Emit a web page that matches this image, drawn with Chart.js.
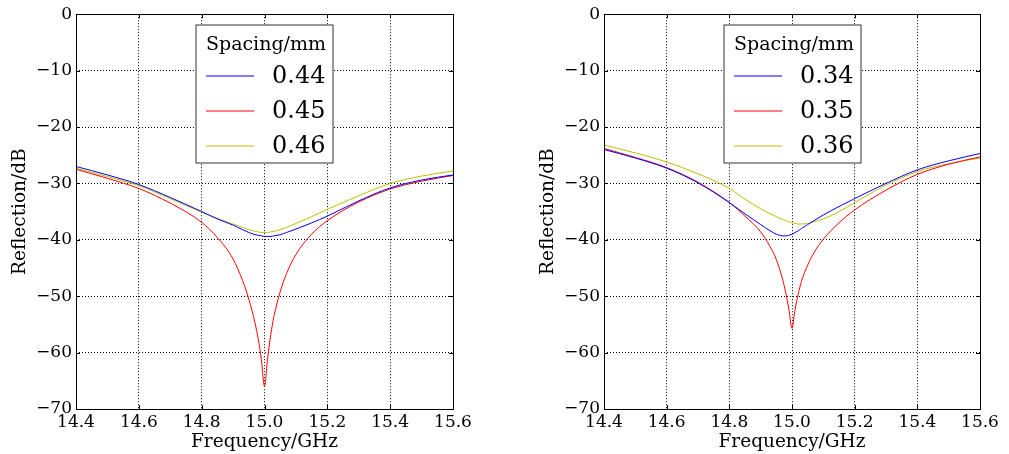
<!DOCTYPE html>
<html>
<head>
<meta charset="utf-8">
<script src="https://cdn.jsdelivr.net/npm/chart.js@4.4.0/dist/chart.umd.min.js"></script>
<style>
  html, body { margin: 0; padding: 0; background: #fff; }
  #wrap { position: relative; width: 1009px; height: 454px; overflow: hidden; }
  canvas { position: absolute; top: 0; }
  #left { left: 0; }
  #right { left: 527px; }
</style>
</head>
<body>
<div id="wrap">
  <canvas id="left" width="480" height="454"></canvas>
  <canvas id="right" width="482" height="454"></canvas>
</div>
<script>
// ---- data ----
const xTicks = [14.4, 14.6, 14.8, 15.0, 15.2, 15.4, 15.6];
const yTicks = [0, -10, -20, -30, -40, -50, -60, -70];

// left panel: spacing 0.44 / 0.45 / 0.46 mm
const freqLeft = [14.4, 14.5, 14.6, 14.7, 14.8, 14.85, 14.9, 14.93, 14.95, 14.97, 14.98, 14.99, 15.0,
                  15.01, 15.02, 15.03, 15.05, 15.07, 15.1, 15.15, 15.2, 15.3, 15.4, 15.5, 15.6];
const refl044 = [-27.0, -28.5, -30.2, -32.5, -35.0, -36.3, -37.4, -38.2, -38.7, -39.1, -39.2, -39.3, -39.4,
                 -39.4, -39.4, -39.3, -39.1, -38.7, -38.1, -37.0, -35.8, -33.1, -30.8, -29.4, -28.5];
const refl045 = [-27.5, -29.1, -30.9, -33.5, -36.9, -39.6, -43.4, -47.2, -50.5, -54.8, -57.6, -61.2, -66.0,
                 -61.0, -56.8, -53.6, -49.2, -46.0, -42.6, -39.0, -36.6, -33.3, -31.0, -29.6, -28.6];
const refl046 = [-27.3, -28.8, -30.4, -32.7, -35.1, -36.2, -37.2, -37.8, -38.2, -38.5, -38.6, -38.7, -38.7,
                 -38.7, -38.6, -38.5, -38.2, -37.8, -37.1, -35.9, -34.6, -32.2, -30.0, -28.7, -27.8];
const spacingLeft = ['0.44', '0.45', '0.46'];

// right panel: spacing 0.34 / 0.35 / 0.36 mm
const freqRight = [14.4, 14.5, 14.6, 14.7, 14.8, 14.85, 14.9, 14.93, 14.95, 14.97, 14.98, 14.99, 15.0,
                   15.01, 15.02, 15.03, 15.05, 15.07, 15.1, 15.15, 15.2, 15.3, 15.4, 15.5, 15.6];
const refl034 = [-24.0, -25.5, -27.3, -29.9, -33.4, -35.4, -37.3, -38.4, -39.0, -39.3, -39.3, -39.2, -39.0,
                 -38.7, -38.4, -38.0, -37.3, -36.6, -35.6, -34.1, -32.7, -30.0, -27.6, -26.0, -24.7];
const refl035 = [-23.8, -25.4, -27.2, -29.8, -33.4, -35.8, -38.6, -41.2, -43.5, -47.0, -49.4, -52.3, -55.7,
                 -52.3, -49.6, -47.4, -44.5, -42.3, -39.9, -37.0, -34.7, -31.2, -28.4, -26.6, -25.3];
const refl036 = [-23.2, -24.6, -26.2, -28.3, -30.9, -32.8, -34.5, -35.4, -35.9, -36.4, -36.6, -36.8, -37.0,
                 -37.1, -37.2, -37.2, -37.1, -36.8, -36.3, -35.0, -33.4, -30.3, -27.9, -26.5, -25.5];
const spacingRight = ['0.34', '0.35', '0.36'];

const colors = ['#0000ff', '#ff0000', '#bfbf00'];
const SERIF = '"DejaVu Serif", "Liberation Serif", serif';

// ---- frame, inward ticks, axis titles, boxed legend ----
const decor = {
  id: 'decor',
  afterDatasetsDraw(chart) {
    const { ctx, chartArea: a, scales: { x, y } } = chart;
    const al = v => Math.round(v) + 0.5;
    ctx.save();
    ctx.strokeStyle = '#000';
    ctx.lineWidth = 1;
    ctx.setLineDash([]);
    ctx.beginPath();
    x.ticks.forEach(t => {
      const px = al(x.getPixelForValue(t.value));
      ctx.moveTo(px, a.bottom); ctx.lineTo(px, a.bottom - 4);
      ctx.moveTo(px, a.top); ctx.lineTo(px, a.top + 4);
    });
    y.ticks.forEach(t => {
      const py = al(y.getPixelForValue(t.value));
      ctx.moveTo(a.left, py); ctx.lineTo(a.left + 4, py);
      ctx.moveTo(a.right, py); ctx.lineTo(a.right - 4, py);
    });
    ctx.stroke();
    ctx.strokeRect(al(a.left), al(a.top), Math.round(a.right - a.left), Math.round(a.bottom - a.top));

    // axis titles
    ctx.fillStyle = '#000';
    ctx.font = '18.5px ' + SERIF;
    ctx.textAlign = 'center';
    ctx.textBaseline = 'middle';
    ctx.fillText('Frequency/GHz', (a.left + a.right) / 2, a.bottom + 33);
    ctx.save();
    ctx.translate(a.left - 56, (a.top + a.bottom) / 2);
    ctx.rotate(-Math.PI / 2);
    ctx.fillText('Reflection/dB', 0, 0);
    ctx.restore();

    // legend box
    const bx = Math.round(a.left + 120), by = Math.round(a.top + 11);
    ctx.fillStyle = '#fff';
    ctx.fillRect(bx, by, 137, 138);
    ctx.strokeStyle = '#333';
    ctx.strokeRect(bx, by, 137, 138);
    ctx.fillStyle = '#000';
    ctx.font = '19px ' + SERIF;
    ctx.fillText('Spacing/mm', bx + 70, by + 20);
    ctx.font = '24px ' + SERIF;
    ctx.textAlign = 'left';
    chart.data.datasets.forEach((ds, i) => {
      const ly = by + 51 + i * 35;
      ctx.strokeStyle = ds.borderColor;
      ctx.beginPath();
      ctx.moveTo(bx + 10, ly); ctx.lineTo(bx + 58, ly);
      ctx.stroke();
      ctx.fillText(ds.label, bx + 76, ly + 1);
    });
    ctx.restore();
  }
};

function axisOpts(ticks, fit, pad, fmt) {
  return {
    type: 'linear',
    afterBuildTicks: s => { s.ticks = ticks.map(v => ({ value: v })); },
    afterFit: fit,
    grid: { color: '#000', lineWidth: 1, drawTicks: false, borderDash: [1, 2] },
    border: { display: false, dash: [1, 2] },
    ticks: {
      padding: pad, color: '#000', maxRotation: 0, autoSkip: false,
      font: { family: SERIF, size: 17 },
      callback: fmt
    }
  };
}

function makeChart(id, freq, series, labels, yWidth, padRight) {
  return new Chart(document.getElementById(id), {
    type: 'line',
    data: {
      datasets: series.map((vals, i) => ({
        label: labels[i],
        data: freq.map((f, j) => ({ x: f, y: vals[j] })),
        borderColor: colors[i],
        borderWidth: 1,
        pointRadius: 0,
        fill: false,
        cubicInterpolationMode: 'monotone'
      }))
    },
    options: {
      responsive: false,
      animation: false,
      devicePixelRatio: 1,
      layout: { padding: { left: 0, right: padRight, top: 14, bottom: 0 } },
      plugins: { legend: { display: false }, tooltip: { enabled: false } },
      scales: {
        x: Object.assign(axisOpts(xTicks, s => { s.height = 45; }, 3, v => v.toFixed(1)),
                         { min: 14.4, max: 15.6 }),
        y: Object.assign(axisOpts(yTicks, s => { s.width = yWidth; }, 4,
                                  v => (v < 0 ? '\u2212' + Math.abs(v) : String(v))),
                         { min: -70, max: 0 })
      }
    },
    plugins: [decor]
  });
}

makeChart('left', freqLeft, [refl044, refl045, refl046], spacingLeft, 76, 27);
makeChart('right', freqRight, [refl034, refl035, refl036], spacingRight, 77, 29);
</script>
</body>
</html>
